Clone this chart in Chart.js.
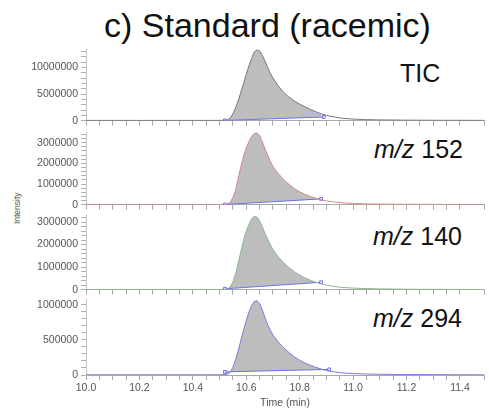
<!DOCTYPE html>
<html>
<head>
<meta charset="utf-8">
<script src="https://cdn.jsdelivr.net/npm/chart.js@4/dist/chart.umd.min.js"></script>
<style>
  body { margin: 0; background: #fff; }
  #wrap { position: relative; width: 489px; height: 412px; overflow: hidden; font-family: "Liberation Sans", Arial, sans-serif; }
  canvas { position: absolute; left: 0; }
  .lbl { position: absolute; line-height: 1; white-space: nowrap; color: #111; }
</style>
</head>
<body>
<div id="wrap">
  <div class="lbl" style="left:0;width:535px;text-align:center;top:8px;font-size:34px;">c) Standard (racemic)</div>
  <div class="lbl" style="left:400px;top:61px;font-size:25px;">TIC</div>
  <div class="lbl" style="left:374px;top:137px;font-size:25px;"><i>m/z</i> 152</div>
  <div class="lbl" style="left:373px;top:224px;font-size:25px;"><i>m/z</i> 140</div>
  <div class="lbl" style="left:373px;top:306px;font-size:25px;"><i>m/z</i> 294</div>
  <div class="lbl" style="left:1px;top:204px;font-size:8.5px;color:#555;transform:rotate(-90deg);">Intensity</div>
  <canvas id="c1"></canvas>
  <canvas id="c2"></canvas>
  <canvas id="c3"></canvas>
  <canvas id="c4"></canvas>
</div>
<script>
// retention time (min)
const times = [10.00, 10.20, 10.40, 10.50, 10.52, 10.53, 10.54, 10.55, 10.56, 10.57, 10.58, 10.59,
  10.60, 10.61, 10.62, 10.63, 10.64, 10.65, 10.66, 10.67, 10.68, 10.69, 10.70, 10.72, 10.74, 10.76,
  10.78, 10.80, 10.82, 10.84, 10.86, 10.88, 10.90, 10.93, 10.96, 11.00, 11.05, 11.10, 11.20, 11.30,
  11.40, 11.49];

// intensities (counts)
const ticVals = [50000, 50000, 50000, 60000, 80000, 150000, 500000, 1300000, 2400000, 3800000, 5400000, 7000000,
  8700000, 10300000, 11700000, 12900000, 13300000, 13100000, 12300000, 11200000, 10000000, 8900000, 8000000,
  6500000, 5300000, 4400000, 3700000, 3100000, 2600000, 2100000, 1700000, 1300000, 1000000, 700000, 450000,
  300000, 200000, 150000, 100000, 80000, 70000, 60000];
const mz152Vals = [10000, 10000, 10000, 10000, 20000, 40000, 120000, 350000, 700000, 1300000, 1850000, 2350000,
  2750000, 3050000, 3300000, 3450000, 3480000, 3350000, 3050000, 2700000, 2400000, 2100000, 1850000,
  1500000, 1220000, 980000, 780000, 620000, 500000, 400000, 310000, 240000, 180000, 130000, 90000,
  60000, 40000, 30000, 20000, 15000, 10000, 10000];
const mz140Vals = [10000, 10000, 10000, 10000, 20000, 40000, 120000, 350000, 700000, 1200000, 1700000, 2200000,
  2600000, 2900000, 3150000, 3250000, 3220000, 3050000, 2800000, 2500000, 2250000, 2000000, 1780000,
  1450000, 1200000, 980000, 800000, 650000, 520000, 420000, 330000, 260000, 200000, 140000, 100000,
  70000, 50000, 35000, 20000, 15000, 10000, 10000];
const mz294Vals = [3000, 3000, 3000, 4000, 6000, 12000, 40000, 110000, 220000, 350000, 500000, 640000,
  780000, 900000, 990000, 1050000, 1060000, 1020000, 930000, 820000, 720000, 640000, 570000,
  470000, 390000, 320000, 260000, 210000, 170000, 140000, 110000, 85000, 65000, 45000, 30000,
  20000, 14000, 10000, 7000, 5000, 4000, 3000];

// integration baselines [start, end]
const ticBase = { t: [10.52, 10.89], v: [50000, 700000] };
const mz152Base = { t: [10.52, 10.88], v: [10000, 280000] };
const mz140Base = { t: [10.52, 10.88], v: [40000, 330000] };
const mz294Base = { t: [10.52, 10.91], v: [45000, 80000] };

// y axis: [max, minor step, major step]
const ticAxis = [13400000, 1000000, 5000000];
const mz152Axis = [3500000, 200000, 1000000];
const mz140Axis = [3300000, 200000, 1000000];
const mz294Axis = [1080000, 100000, 500000];

const xMin = 10.0, xMax = 11.49;

const panels = [
  { id: 'c1', vals: ticVals, base: ticBase, axis: ticAxis, color: '#777777', top: 48, bottom: 122 },
  { id: 'c2', vals: mz152Vals, base: mz152Base, axis: mz152Axis, color: '#d48a8a', top: 131, bottom: 206 },
  { id: 'c3', vals: mz140Vals, base: mz140Base, axis: mz140Axis, color: '#88b888', top: 214, bottom: 291 },
  { id: 'c4', vals: mz294Vals, base: mz294Base, axis: mz294Axis, color: '#7c7ce0', top: 298, bottom: 375, last: true }
];

const tickFont = { family: '"Liberation Sans", Arial, sans-serif', size: 10.5 };

panels.forEach(p => {
  const cv = document.getElementById(p.id);
  const padTop = 8, padBottom = p.last ? 0 : 8;
  const xH = p.last ? 37 : 0;
  const h = p.bottom - p.top + padTop + padBottom + xH;
  cv.width = 489;
  cv.height = h;
  cv.style.top = (p.top - padTop) + 'px';

  const trace = times.map((t, i) => ({ x: t, y: p.vals[i] }));
  const area = trace.filter(d => d.x >= p.base.t[0] && d.x <= p.base.t[1]);
  const baseLine = p.base.t.map((t, i) => ({ x: t, y: p.base.v[i] }));
  const [yMax, minor, major] = p.axis;
  const perMajor = Math.round(major / minor);

  new Chart(cv, {
    type: 'line',
    data: {
      datasets: [
        { data: trace, borderColor: p.color, borderWidth: 1, pointRadius: 0, fill: false, tension: 0 },
        { data: baseLine, borderColor: '#6f6ff0', borderWidth: 1, pointRadius: 2, pointStyle: 'rect',
          pointBorderColor: '#6f6ff0', pointBackgroundColor: 'rgba(255,255,255,0.6)', pointBorderWidth: 1, fill: false },
        { data: area, borderWidth: 0, pointRadius: 0, backgroundColor: '#bdbdbd', fill: 1, tension: 0 }
      ]
    },
    options: {
      responsive: false,
      animation: false,
      layout: { padding: { top: padTop, bottom: padBottom, left: 0, right: 1 } },
      plugins: { legend: { display: false }, tooltip: { enabled: false } },
      scales: {
        x: {
          type: 'linear', min: xMin, max: xMax,
          afterFit: s => { s.height = xH; },
          border: { display: true, color: '#a8a8a8', width: 1 },
          grid: { display: p.last, drawOnChartArea: false, drawTicks: true, tickLength: 5, color: '#a8a8a8' },
          ticks: {
            display: p.last, stepSize: 0.05, autoSkip: false, maxTicksLimit: 1000, maxRotation: 0, padding: 2,
            color: '#555', font: tickFont,
            callback: v => (Math.round(v * 100) % 20 === 0 ? v.toFixed(1) : '')
          },
          title: {
            display: p.last, text: 'Time (min)', color: '#555',
            font: { family: '"Liberation Sans", Arial, sans-serif', size: 10.5 }, padding: { top: 0, bottom: 3 }
          }
        },
        y: {
          min: 0, max: yMax,
          afterFit: s => { s.width = 86; },
          // regular minor ticks from zero, labels only on the major ones
          afterBuildTicks: s => {
            const t = [];
            for (let k = 0; k * minor <= yMax; k++) t.push({ value: k * minor });
            s.ticks = t;
          },
          border: { display: true, color: '#c4c4c4', width: 1 },
          grid: { drawOnChartArea: false, drawTicks: true, tickLength: 5, color: '#b0b0b0' },
          ticks: {
            autoSkip: false, padding: 3, color: '#555', font: tickFont,
            callback: v => (Math.round(v / minor) % perMajor === 0 ? String(v) : '')
          }
        }
      }
    }
  });
});
</script>
</body>
</html>
